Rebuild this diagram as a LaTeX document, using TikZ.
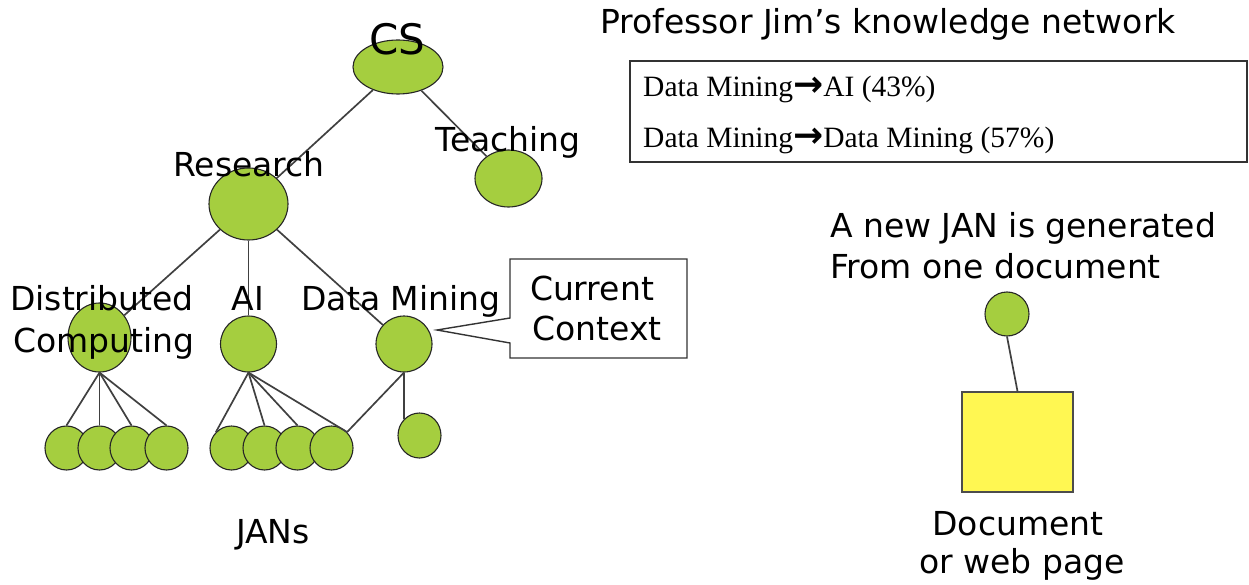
\documentclass[tikz,border=0pt]{standalone}
\usepackage{fontspec}
\setmainfont{DejaVu Sans}
\newfontfamily\seriffont{Liberation Serif}
\newfontfamily\arrowfont{DejaVu Sans}
\usetikzlibrary{shapes.geometric}
\definecolor{jangreen}{RGB}{165,206,63}
\definecolor{docyellow}{RGB}{255,247,82}
\begin{document}
\begin{tikzpicture}[x=1pt,y=-1pt,
  jan/.style={ellipse, draw=black!85, line width=1.1pt, fill=jangreen, inner sep=0pt},
  link/.style={draw=black!75, line width=1.7pt},
  lbl/.style={font=\fontsize{33}{41}\selectfont, inner sep=0pt, anchor=base},
  lblw/.style={lbl, anchor=base west},
  tbl/.style={font=\seriffont\fontsize{29.5}{34}\selectfont, inner sep=0pt, anchor=base west},
  frame/.style={draw=black!80, line width=1.4pt}
]
\useasboundingbox (0,0) rectangle (1249,585);

% tree nodes
\node[jan, minimum width=90pt, minimum height=54pt] (cs) at (398,67) {};
\node[jan, minimum width=79pt, minimum height=72pt] (research) at (248.5,204) {};
\node[jan, minimum width=67pt, minimum height=57pt] (teaching) at (508.5,178.5) {};
\node[jan, minimum width=63pt, minimum height=69pt] (dc) at (99.5,337.5) {};
\node[jan, minimum width=56pt, minimum height=56pt] (ai) at (248.5,344) {};
\node[jan, minimum width=56pt, minimum height=56pt] (dm) at (404,344) {};

% edges of upper tree
\draw[link] (cs) -- (research);
\draw[link] (cs) -- (teaching);
\draw[link] (research) -- (dc);
\draw[link] (research) -- (ai);
\draw[link] (research) -- (dm);

% leaves
\foreach \n/\x in {dc1/66.5, dc2/99.5, dc3/131.5, dc4/166.5, ai1/231.5, ai2/264.5, ai3/297.5, ai4/331.5}
  \node[jan, minimum width=43pt, minimum height=44pt] (\n) at (\x,448) {};
\node[jan, minimum width=43pt, minimum height=45pt] (dml) at (419.5,435.5) {};

\draw[link] (dc.south) -- (dc1.north);
\draw[link] (dc.south) -- (dc2.north);
\draw[link] (dc.south) -- (dc3.north);
\draw[link] (dc.south) -- (dc4.north);
\draw[link] (ai.south) -- (ai1.north west);
\draw[link] (ai.south) -- (ai2.north);
\draw[link] (ai.south) -- (ai3.north);
\draw[link] (ai.south) -- (ai4.north east);
\draw[link] (dm.south) -- (ai4.north east);
\draw[link] (dm.south) -- (dml.north west);

% callout
\coordinate (tip) at (437,330);
\draw[frame, fill=white] (510,259) -- (687,259) -- (687,358) -- (510,358) -- (510,343) -- (tip) -- (510,318) -- cycle;

% labels
\node[lbl, font=\fontsize{42}{50}\selectfont] (tcs) at (397,55) {CS};
\node[lbl] (tresearch) at (249,177) {Research};
\node[lbl] (tteaching) at (508,152) {Teaching};
\node[lbl] (tdist) at (102,310) {Distributed};
\node[lbl] (tcomp) at (104,352) {Computing};
\node[lbl] (tai) at (248,310) {AI};
\node[lbl] (tdm) at (401,310) {Data Mining};
\node[lbl] (tcur) at (592,300) {Current};
\node[lbl] (tctx) at (597,340) {Context};
\node[lbl] (tjans) at (273,543) {JANs};

% right part
\node[lblw] (title) at (600,34) {Professor Jim’s knowledge network};
\draw[frame] (630,61) rectangle (1247,162);
\node[tbl] (r1) at (643,97) {Data Mining{\arrowfont\bfseries\fontsize{36}{36}\selectfont →}AI (43\%)};
\node[tbl] (r2) at (643,148) {Data Mining{\arrowfont\bfseries\fontsize{36}{36}\selectfont →}Data Mining (57\%)};

\node[lblw] (gen1) at (830,237) {A new JAN is generated};
\node[lblw] (gen2) at (830,278) {From one document};

\node[jan, minimum width=44pt, minimum height=44pt] (newjan) at (1007,314) {};
\node[draw=black!70, line width=1.4pt, fill=docyellow, minimum width=111pt, minimum height=100pt, inner sep=0pt] (doc) at (1017.5,442) {};
\draw[link] (newjan.south) -- (doc.north);

\node[lbl] (tdoc) at (1018,535) {Document};
\node[lbl] (tweb) at (1022,573) {or web page};
\end{tikzpicture}
\end{document}
